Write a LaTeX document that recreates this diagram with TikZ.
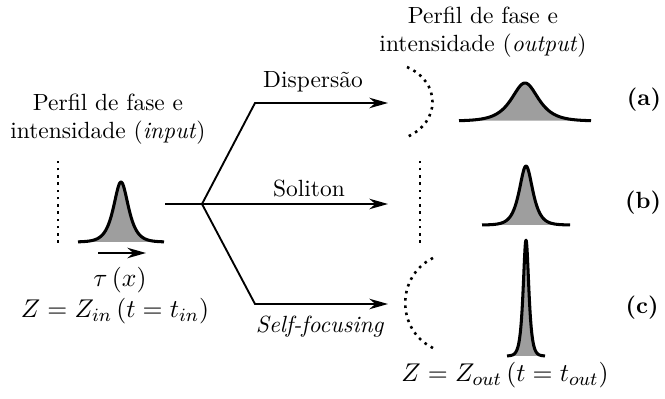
\documentclass[tikz,border=0pt]{standalone}
\usepackage{amsmath}
\usepackage{tikz}
\usetikzlibrary{arrows.meta}
\tikzset{
    pulse/.style={line width=1.3pt, line join=round},
    pulsefill/.style={fill=black!38},
    front/.style={line width=1.1pt, dotted},
    branch/.style={line width=0.8pt},
    tip/.style={-{Stealth[length=8pt, width=4.5pt]}},
    lbl/.style={align=center, inner sep=1pt},
    mathlbl/.style={font=\fontsize{11}{13}\selectfont},
    caselabel/.style={font=\bfseries}
}
% pulse: centre x, base y, half span, height, width
\newcommand{\pulse}[5]{%
    \fill[pulsefill] plot[domain=-#3:#3, samples=120] ({#1+\x}, {#2+#4/cosh(\x/#5)}) -- cycle;
    \draw[pulse] plot[domain=-#3:#3, samples=120] ({#1+\x}, {#2+#4/cosh(\x/#5)});
}

\begin{document}
\begin{tikzpicture}[x=0.015cm, y=0.015cm]
    \useasboundingbox (0,0) rectangle (665,398);

    % input
    \node[lbl] (intitle) at (108,279) {Perfil de fase e\\intensidade (\textit{input})};
    \draw[front] (58,155) -- (58,242);
    \pulse{121}{156}{43}{60}{6.6}
    \coordinate (tauL) at (98,145);
    \coordinate (tauR) at (146,145);
    \draw[branch, tip] (tauL) -- (tauR);
    \node[mathlbl] (tau) at (120,118) {$\tau\left(x\right)$};
    \node[mathlbl] (zin) at (115,87) {$Z=Z_{in}\left(t=t_{in}\right)$};

    % branches
    \coordinate (start) at (165,194);
    \coordinate (br) at (202,194);
    \coordinate (cu) at (255,295);
    \coordinate (cd) at (255,94);
    \coordinate (ea) at (388,295);
    \coordinate (eb) at (388,194);
    \coordinate (ec) at (388,94);
    \draw[branch] (start) -- (br);
    \draw[branch, tip] (br) -- (cu) -- (ea);
    \draw[branch, tip] (br) -- (eb);
    \draw[branch, tip] (br) -- (cd) -- (ec);
    \node (disp) at (313,316) {Dispersão};
    \node (sol) at (309,210) {Soliton};
    \node (self) at (320,71) {\textit{Self-focusing}};

    % output
    \node[lbl] (outtitle) at (483,366) {Perfil de fase e\\intensidade (\textit{output})};

    % (a)
    \draw[front] (407,331) .. controls (441,316) and (441,276) .. (407,261);
    \pulse{525}{277}{66}{38}{12}
    \node[caselabel] (ca) at (644,298) {(a)};

    % (b)
    \draw[front] (420,155) -- (420,240);
    \pulse{526}{173}{44}{59}{6}
    \node[caselabel] (cb) at (643,195) {(b)};

    % (c)
    \draw[front] (433,140) .. controls (396,122) and (396,68) .. (433,50);
    \pulse{526}{42}{19}{116}{2.5}
    \node[caselabel] (cc) at (642,90) {(c)};
    \node[mathlbl] (zout) at (505,23) {$Z=Z_{out}\left(t=t_{out}\right)$};
\end{tikzpicture}
\end{document}
